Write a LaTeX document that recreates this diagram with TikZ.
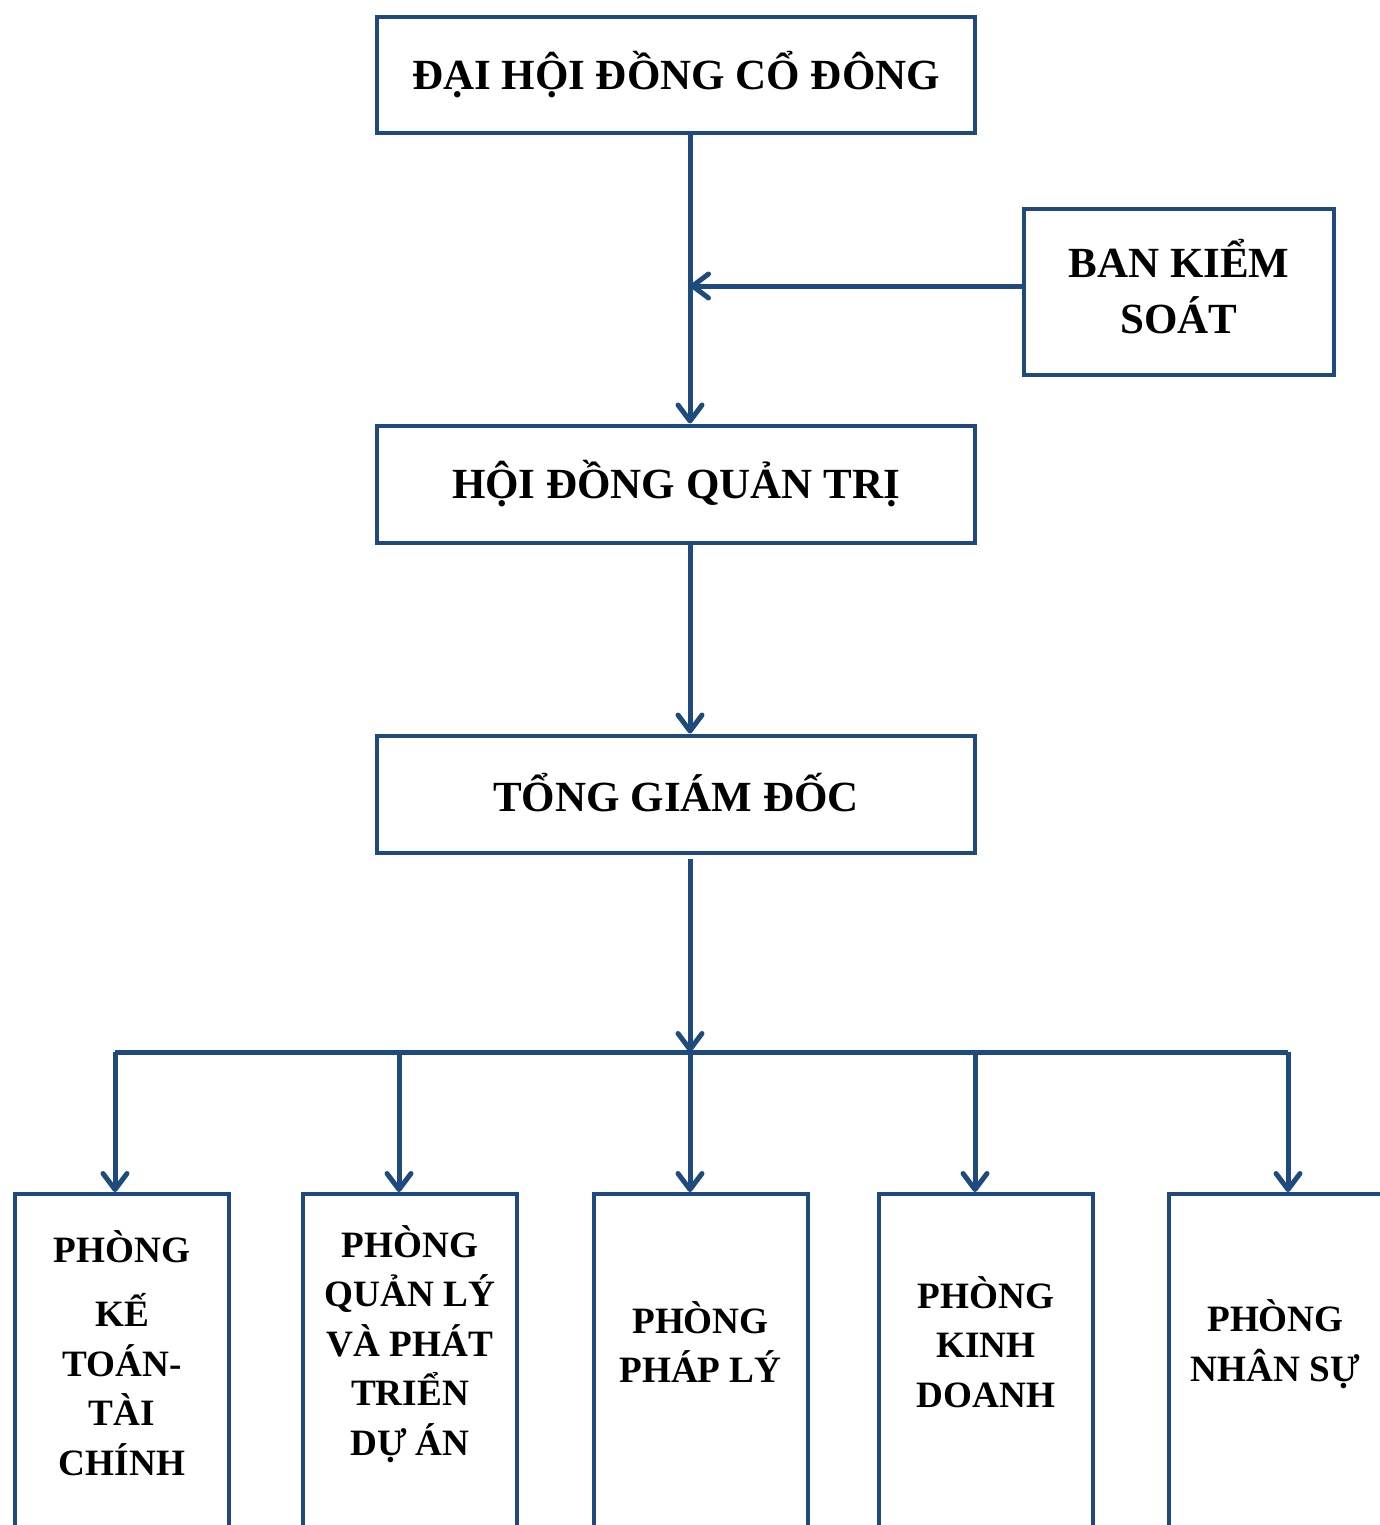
\documentclass[tikz,border=0pt]{standalone}
\usepackage{fontspec}
\setmainfont{Liberation Serif}
\usepackage{tikz}
\usetikzlibrary{positioning,arrows.meta,calc}
\definecolor{frame}{HTML}{1F4A7D}
\tikzset{
  unit/.style={rectangle, draw=frame, line width=2pt, fill=white,
               font=\fontsize{21.5}{27}\selectfont\bfseries, align=center},
  unittext/.style={font=\fontsize{21.5}{27}\selectfont\bfseries, align=center, inner sep=0pt},
  dept/.style={rectangle, draw=frame, line width=2pt, fill=white,
               minimum width=107pt, minimum height=203pt},
  depttext/.style={font=\fontsize{18.6}{24.7}\selectfont\bfseries, align=center, inner sep=0pt},
  link/.style={draw=frame, line width=2.5pt},
  flow/.style={-{Straight Barb[length=8pt,width=12pt,line cap=round,line join=round]},
               draw=frame, line width=2.5pt}
}
\begin{document}
\begin{tikzpicture}[x=0.5pt,y=-0.5pt]
  \useasboundingbox (0,0) rectangle (1380,1525);

  % governing bodies
  \node[unit, minimum width=299pt, minimum height=58pt] (dhdcd) at (676,75) {\raisebox{2.5pt}{ĐẠI HỘI ĐỒNG CỔ ĐÔNG}};
  \node[unit, minimum width=155pt, minimum height=83pt] (bks) at (1179,292) {};
  \node[unittext] (bksText) at (1179,287) {BAN KIỂM\\[1pt] SOÁT};
  \node[unit, minimum width=299pt, minimum height=58.5pt] (hdqt) at (676,484) {\raisebox{1.5pt}{HỘI ĐỒNG QUẢN TRỊ}};
  \node[unit, minimum width=299pt, minimum height=58.5pt] (tgd) at (676,794) {\raisebox{2pt}{TỔNG GIÁM ĐỐC}};

  % departments
  \node[dept] (ktc) at (122,1397) {};
  \node[dept] (qlda) at (410,1397) {};
  \node[dept] (pl) at (700.5,1397) {};
  \node[dept] (kd) at (986,1397) {};
  \node[dept] (ns) at (1275.5,1397) {};

  \coordinate (textrow) at (0,1344);
  \node[depttext] (ktcText) at ($(ktc.north |- textrow)+(0,9)$) {PHÒNG\\[7.5pt] KẾ\\ TOÁN-\\ TÀI\\ CHÍNH};
  \node[depttext] (qldaText) at (qlda.north |- textrow) {PHÒNG\\ QUẢN LÝ\\ VÀ PHÁT\\ TRIỂN\\ DỰ ÁN};
  \node[depttext] (plText) at ($(pl.north |- textrow)+(0,-2)$) {PHÒNG\\ PHÁP LÝ};
  \node[depttext] (kdText) at ($(kd.north |- textrow)+(0,-2)$) {PHÒNG\\ KINH\\ DOANH};
  \node[depttext] (nsText) at (ns.north |- textrow) {PHÒNG\\ NHÂN SỰ};

  % spine and branch bar
  \coordinate (spine) at (690,0);
  \coordinate (barL) at (115,1052);
  \coordinate (barR) at (1288,1052);
  \coordinate (barM) at (690,1052);
  \coordinate (bksOut) at ($(bks.west)+(0,-6)$);

  \draw[flow] (dhdcd.south -| spine) -- (hdqt.north -| spine);
  \draw[flow] (bksOut) -- (bksOut -| spine);
  \draw[flow] (hdqt.south -| spine) -- (tgd.north -| spine);
  \draw[flow] ($(tgd.south -| spine)+(0,4)$) -- (barM);
  \draw[link] (barL) -- (barR);

  \foreach \dep/\x in {ktc/115, qlda/399, pl/690, kd/975, ns/1288} {
    \coordinate (drop-\dep) at (\x,1052);
    \draw[flow] (drop-\dep) -- (\dep.north -| drop-\dep);
  }
\end{tikzpicture}
\end{document}
